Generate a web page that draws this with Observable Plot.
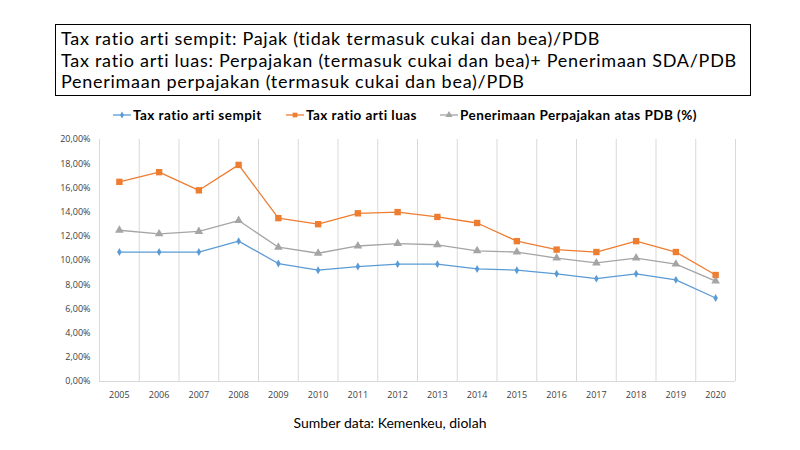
<!DOCTYPE html>
<html>
<head>
<meta charset="utf-8">
<script src="https://cdn.jsdelivr.net/npm/d3@7"></script>
<script src="https://cdn.jsdelivr.net/npm/@observablehq/plot@0.6"></script>
<style>
  html, body { margin: 0; padding: 0; background: #fff; }
  #wrap { position: relative; width: 800px; height: 450px; overflow: hidden; background: #fff; font-family: Lato, "Open Sans", sans-serif; }
  #titlebox { position: absolute; left: 55px; top: 24px; width: 689px; height: 70px; border: 1px solid #000; box-sizing: content-box; padding: 0 0 0 5px; font-size: 18px; letter-spacing: 0.72px; line-height: 21.5px; color: #000; white-space: nowrap; }
  #titlebox div:first-child { margin-top: 3px; }
  #legend { position: absolute; top: 107px; left: 0; width: 800px; font-size: 13.5px; letter-spacing: 0.45px; font-weight: bold; color: #000; }
  .li { position: absolute; top: 0; display: flex; align-items: center; }
  .li svg { margin-right: 2px; }
  #chart { position: absolute; left: 0; top: 125px; }
  #caption { position: absolute; top: 414px; left: 0; width: 780px; text-align: center; font-size: 14px; color: #000; }
</style>
</head>
<body>
<div id="wrap">
  <div id="titlebox">
    <div>Tax ratio arti sempit: Pajak (tidak termasuk cukai dan bea)/PDB</div>
    <div>Tax ratio arti luas: Perpajakan (termasuk cukai dan bea)+ Penerimaan SDA/PDB</div>
    <div>Penerimaan perpajakan (termasuk cukai dan bea)/PDB</div>
  </div>
  <div id="legend"></div>
  <div id="chart"></div>
  <div id="caption">Sumber data: Kemenkeu, diolah</div>
</div>
<script>
const years = [2005, 2006, 2007, 2008, 2009, 2010, 2011, 2012, 2013, 2014, 2015, 2016, 2017, 2018, 2019, 2020];
const seriesNames = ["Tax ratio arti sempit", "Tax ratio arti luas", "Penerimaan Perpajakan atas PDB (%)"];
const sempit = [10.7, 10.7, 10.7, 11.6, 9.75, 9.2, 9.5, 9.7, 9.7, 9.3, 9.2, 8.9, 8.5, 8.9, 8.4, 6.9];
const luas = [16.5, 17.3, 15.8, 17.9, 13.5, 13.0, 13.9, 14.0, 13.6, 13.1, 11.6, 10.9, 10.7, 11.6, 10.7, 8.8];
const penerimaan = [12.5, 12.2, 12.4, 13.3, 11.1, 10.6, 11.2, 11.4, 11.3, 10.8, 10.7, 10.2, 9.8, 10.2, 9.7, 8.3];
const yTicks = [0, 2, 4, 6, 8, 10, 12, 14, 16, 18, 20];

const colors = ["#5b9bd5", "#ed7d31", "#a5a5a5"];
const symbols = ["diamond", "square", "triangle"];
const symSizes = [2.4, 3.6, 3.2];
const allValues = [sempit, luas, penerimaan];

const data = [];
allValues.forEach((vals, si) => vals.forEach((v, i) => data.push({year: years[i], value: v, series: seriesNames[si]})));

const gridX = years.map(y => y - 0.5).concat([years[years.length - 1] + 0.5]);
const fmt = d => d.toFixed(2).replace(".", ",") + "%";

const marks = [
  Plot.ruleX(gridX, {stroke: "#d9d9d9", strokeWidth: 1}),
  Plot.ruleY([0], {stroke: "#d9d9d9", strokeWidth: 1})
];
seriesNames.forEach((name, si) => {
  const d = data.filter(r => r.series === name);
  marks.push(Plot.line(d, {x: "year", y: "value", stroke: colors[si], strokeWidth: 1.3}));
  marks.push(Plot.dot(d, {x: "year", y: "value", symbol: () => symbols[si], r: symSizes[si], fill: colors[si], stroke: "none"}));
});

const chart = Plot.plot({
  width: 800,
  height: 285,
  marginLeft: 99,
  marginRight: 65,
  marginTop: 14,
  marginBottom: 29,
  style: {fontFamily: "'Open Sans', Lato, sans-serif", fontSize: "9px", color: "#404040", background: "#fff"},
  x: {type: "linear", domain: [years[0] - 0.5, years[years.length - 1] + 0.5], ticks: years, tickFormat: d => String(d), tickSize: 0, tickPadding: 10, label: null},
  y: {domain: [0, 20], ticks: yTicks, tickFormat: fmt, tickSize: 0, tickPadding: 9, label: null},
  symbol: {type: "identity"},
  marks
});
document.getElementById("chart").appendChild(chart);

// legend
const legendPos = [113, 286, 440];
const leg = document.getElementById("legend");
seriesNames.forEach((name, si) => {
  const item = document.createElement("div");
  item.className = "li";
  item.style.left = legendPos[si] + "px";
  const sw = d3.create("svg").attr("width", 18).attr("height", 16);
  sw.append("line").attr("x1", 0).attr("x2", 18).attr("y1", 8).attr("y2", 8).attr("stroke", colors[si]).attr("stroke-width", 1.3);
  sw.append("path").attr("transform", "translate(9,8)").attr("fill", colors[si])
    .attr("d", d3.symbol(si === 0 ? d3.symbolDiamond : si === 1 ? d3.symbolSquare : d3.symbolTriangle, si === 0 ? 14 : 22)());
  item.appendChild(sw.node());
  const t = document.createElement("span");
  t.textContent = name;
  item.appendChild(t);
  leg.appendChild(item);
});
</script>
</body>
</html>
